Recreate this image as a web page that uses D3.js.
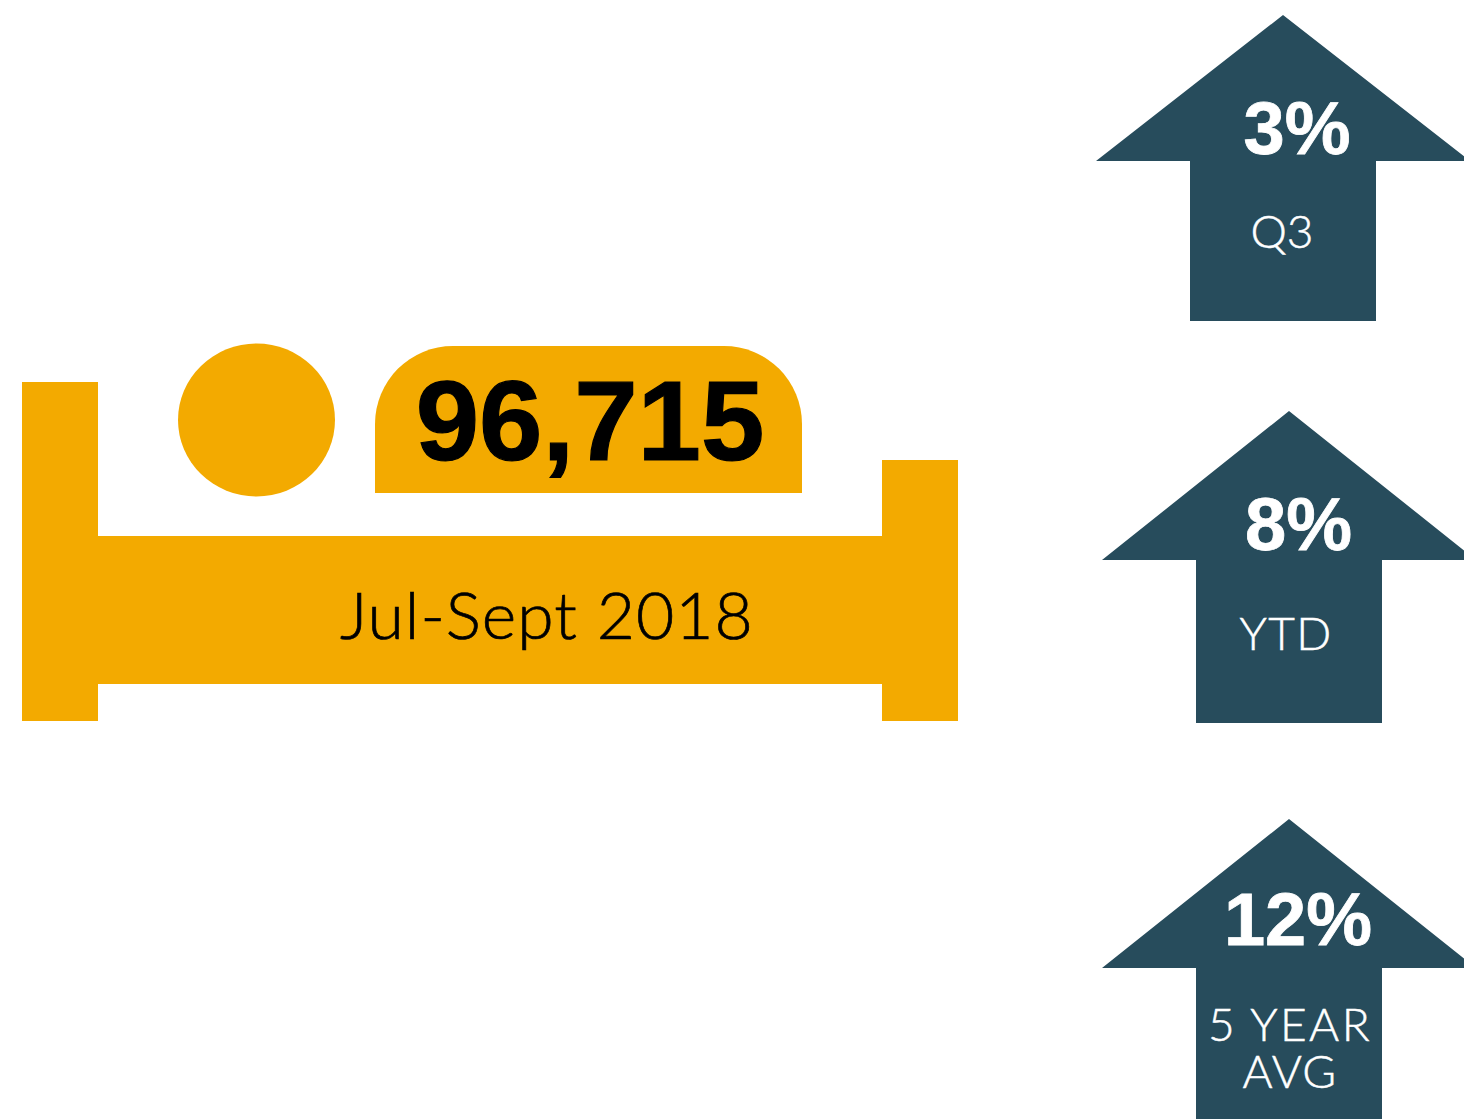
<!DOCTYPE html>
<html><head><meta charset="utf-8">
<script src="https://cdn.jsdelivr.net/npm/d3@7"></script>
<style>html,body{margin:0;padding:0;background:#fff;overflow:hidden}svg{display:block}</style>
</head><body><script>
const totalLabel = "96,715";
const periodLabel = "Jul-Sept 2018";
const changePercents = [3, 8, 12];
const changeLabels = [["Q3"], ["YTD"], ["5 YEAR", "AVG"]];

const AMBER = "#F3AA00", SLATE = "#274C5C";
const LIGHT = "Lato, 'Open Sans', sans-serif", BOLD = "'Liberation Sans', Arial, sans-serif";
const arrowLayout = [
  {cx:1283, tip:15,  shoulder:161, bottom:321,  pct:[1297,154],  lab:[[1282,248]], ls:[0]},
  {cx:1289, tip:411, shoulder:560, bottom:723,  pct:[1298.5,550], lab:[[1286,650]], ls:[1.3]},
  {cx:1289, tip:819, shoulder:968, bottom:1125, pct:[1298,945],  lab:[[1290,1041],[1290,1088]], ls:[2.4,1.3]}
];
const svg = d3.select("body").append("svg").attr("width",1464).attr("height",1119);

// bed
const bed = svg.append("g").attr("fill",AMBER);
bed.append("path").attr("d",(()=>{const p=d3.path();
  p.moveTo(22,382);p.lineTo(98,382);p.lineTo(98,536);p.lineTo(882,536);p.lineTo(882,460);p.lineTo(958,460);
  p.lineTo(958,721);p.lineTo(882,721);p.lineTo(882,684);p.lineTo(98,684);p.lineTo(98,721);p.lineTo(22,721);p.closePath();return p.toString();})());
bed.append("ellipse").attr("cx",256.5).attr("cy",420).attr("rx",78.5).attr("ry",76.5);
bed.append("path").attr("d","M375,493V424A78,78 0 0 1 453,346H724A78,78 0 0 1 802,424V493Z");

svg.append("text").text(totalLabel).attr("x",590).attr("y",460).attr("text-anchor","middle")
  .attr("font-family",BOLD).attr("font-weight",700).attr("font-size",114).attr("fill","#000")
  .attr("stroke","#000").attr("stroke-width",1.2);
svg.append("text").text(periodLabel).attr("x",547).attr("y",639).attr("text-anchor","middle")
  .attr("font-family",LIGHT).attr("font-weight",300).attr("font-size",66).attr("fill","#000")
  .attr("stroke","#000").attr("stroke-width",0.7).attr("letter-spacing",1);

// arrows
const half = 93, wing = 187;
const arrows = svg.selectAll("g.arrow").data(changePercents).join("g").attr("class","arrow");
arrows.append("path").attr("fill",SLATE).attr("d",(d,i)=>{const a=arrowLayout[i];
  return d3.line()([[a.cx,a.tip],[a.cx+wing,a.shoulder],[a.cx+half,a.shoulder],[a.cx+half,a.bottom],
    [a.cx-half,a.bottom],[a.cx-half,a.shoulder],[a.cx-wing,a.shoulder]])+"Z";});
arrows.append("text").text(d=>d3.format("d")(d)+"%").attr("x",(d,i)=>arrowLayout[i].pct[0]).attr("y",(d,i)=>arrowLayout[i].pct[1])
  .attr("text-anchor","middle").attr("font-family",BOLD).attr("font-weight",700).attr("font-size",74).attr("fill","#fff")
  .attr("stroke","#fff").attr("stroke-width",0.8);
arrows.append("text").attr("class","lab").attr("text-anchor","middle").attr("font-family",LIGHT).attr("font-weight",300)
  .attr("font-size",46).attr("fill","#fff").attr("stroke","#fff").attr("stroke-width",0.5)
  .each(function(d,i){
    d3.select(this).selectAll("tspan").data(changeLabels[i]).join("tspan")
      .text(t=>t).attr("x",(t,j)=>arrowLayout[i].lab[j][0]).attr("y",(t,j)=>arrowLayout[i].lab[j][1])
      .attr("letter-spacing",(t,j)=>arrowLayout[i].ls[j]);
  });
</script></body></html>
